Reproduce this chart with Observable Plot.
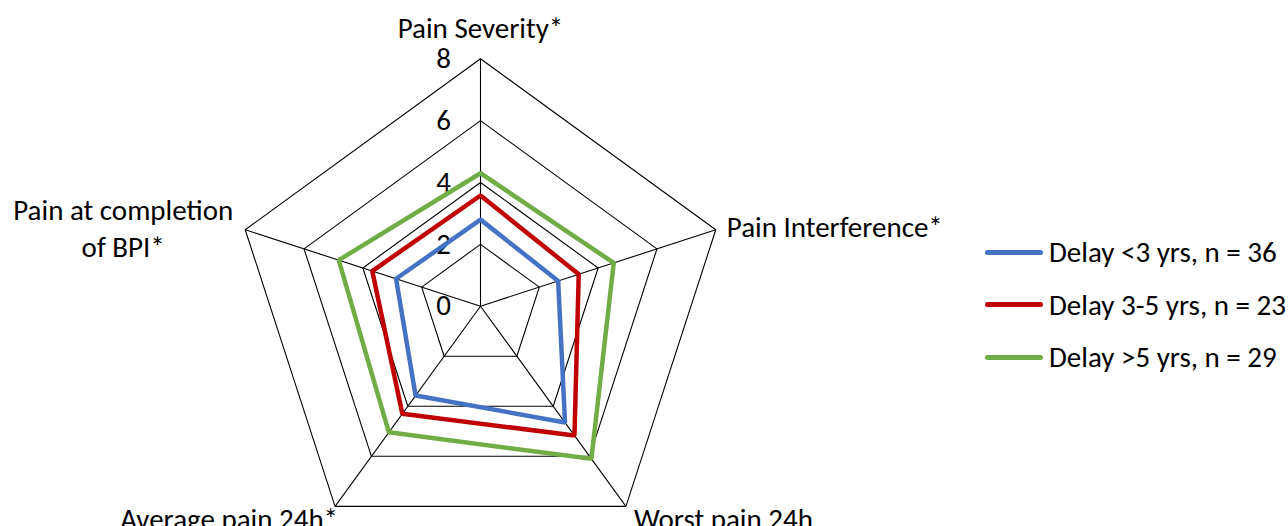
<!DOCTYPE html>
<html>
<head>
<meta charset="utf-8">
<script src="https://cdn.jsdelivr.net/npm/d3@7"></script>
<script src="https://cdn.jsdelivr.net/npm/@observablehq/plot@0.6"></script>
<style>
  html, body { margin: 0; padding: 0; background: #fff; }
  #wrap { position: relative; width: 1288px; height: 526px; overflow: hidden; font-family: Carlito, Calibri, Lato, sans-serif; }
  #legend { position: absolute; left: 985px; top: 226px; font-size: 29px; color: #000; }
  .item { display: flex; align-items: center; height: 52.5px; }
  .swatch { width: 58px; height: 5px; border-radius: 3px; margin-right: 6px; }
</style>
</head>
<body>
<div id="wrap"></div>
<script>
// ---- data ----
const axesLabels = ["Pain Severity*", "Pain Interference*", "Worst pain 24h", "Average pain 24h*", "Pain at completion\nof BPI*"];
const seriesNames = ["Delay <3 yrs, n = 36", "Delay 3-5 yrs, n = 23", "Delay >5 yrs, n = 29"];
const delayLt3 = [2.80, 2.64, 4.65, 3.57, 2.87];
const delay3to5 = [3.58, 3.34, 5.17, 4.30, 3.68];
const delayGt5 = [4.30, 4.53, 6.10, 5.04, 4.82];
const tickValues = [0, 2, 4, 6, 8];
const seriesColors = ["#4472C4", "#C00000", "#70AD47"];

// ---- build ----
const n = axesLabels.length;
const maxV = 8;
const ang = i => (i * 2 * Math.PI) / n; // clockwise from top
const px = (i, v) => v * Math.sin(ang(i));
const py = (i, v) => v * Math.cos(ang(i));

const allSeries = [delayLt3, delay3to5, delayGt5];
const seriesPts = [];
allSeries.forEach((vals, s) => vals.forEach((v, i) => seriesPts.push({s: seriesNames[s], x: px(i, v), y: py(i, v)})));

const gridPts = [];
tickValues.filter(t => t > 0).forEach(t => axesLabels.forEach((_, i) => gridPts.push({t, x: px(i, t), y: py(i, t)})));

const spokes = axesLabels.map((_, i) => ({x1: 0, y1: 0, x2: px(i, maxV), y2: py(i, maxV)}));

const labelStyle = [
  {anchor: "middle", dx: 0, dy: -33},
  {anchor: "start", dx: 11, dy: -5},
  {anchor: "start", dx: 8, dy: 11},
  {anchor: "end", dx: 3, dy: 11},
  {anchor: "middle", dx: -122, dy: -3}
];

const cx = 480, cy = 305.7, R = 247.4;
const fontFamily = "Carlito, Calibri, Lato, sans-serif";

const chart = Plot.plot({
  width: 1288,
  height: 526,
  margin: 0,
  style: {fontFamily, fontSize: "29px", color: "#000", background: "#fff"},
  x: {domain: [-maxV, maxV], range: [cx - R, cx + R], axis: null},
  y: {domain: [-maxV, maxV], range: [cy + R, cy - R], axis: null},
  color: {domain: seriesNames, range: seriesColors},
  marks: [
    Plot.line(gridPts, {x: "x", y: "y", z: "t", curve: "linear-closed", stroke: "#000", strokeWidth: 1.1}),
    Plot.link(spokes, {x1: "x1", y1: "y1", x2: "x2", y2: "y2", stroke: "#000", strokeWidth: 1.1}),
    Plot.text(tickValues, {x: 0, y: d => d, text: d => String(d), dx: -37, fill: "#000", fontSize: 29}),
    Plot.line(seriesPts, {x: "x", y: "y", z: "s", stroke: "s", curve: "linear-closed", strokeWidth: 4.5, strokeLinejoin: "miter"}),
    ...axesLabels.map((lab, i) => Plot.text([lab], {
      x: px(i, maxV), y: py(i, maxV), text: d => d,
      textAnchor: labelStyle[i].anchor, dx: labelStyle[i].dx, dy: labelStyle[i].dy,
      lineHeight: 1.28, fill: "#000", fontSize: 29
    }))
  ]
});

const wrap = document.getElementById("wrap");
wrap.appendChild(chart);

const legend = document.createElement("div");
legend.id = "legend";
seriesNames.forEach((name, k) => {
  const item = document.createElement("div");
  item.className = "item";
  const sw = document.createElement("div");
  sw.className = "swatch";
  sw.style.background = seriesColors[k];
  const t = document.createElement("span");
  t.textContent = name;
  item.appendChild(sw);
  item.appendChild(t);
  legend.appendChild(item);
});
wrap.appendChild(legend);
</script>
</body>
</html>
